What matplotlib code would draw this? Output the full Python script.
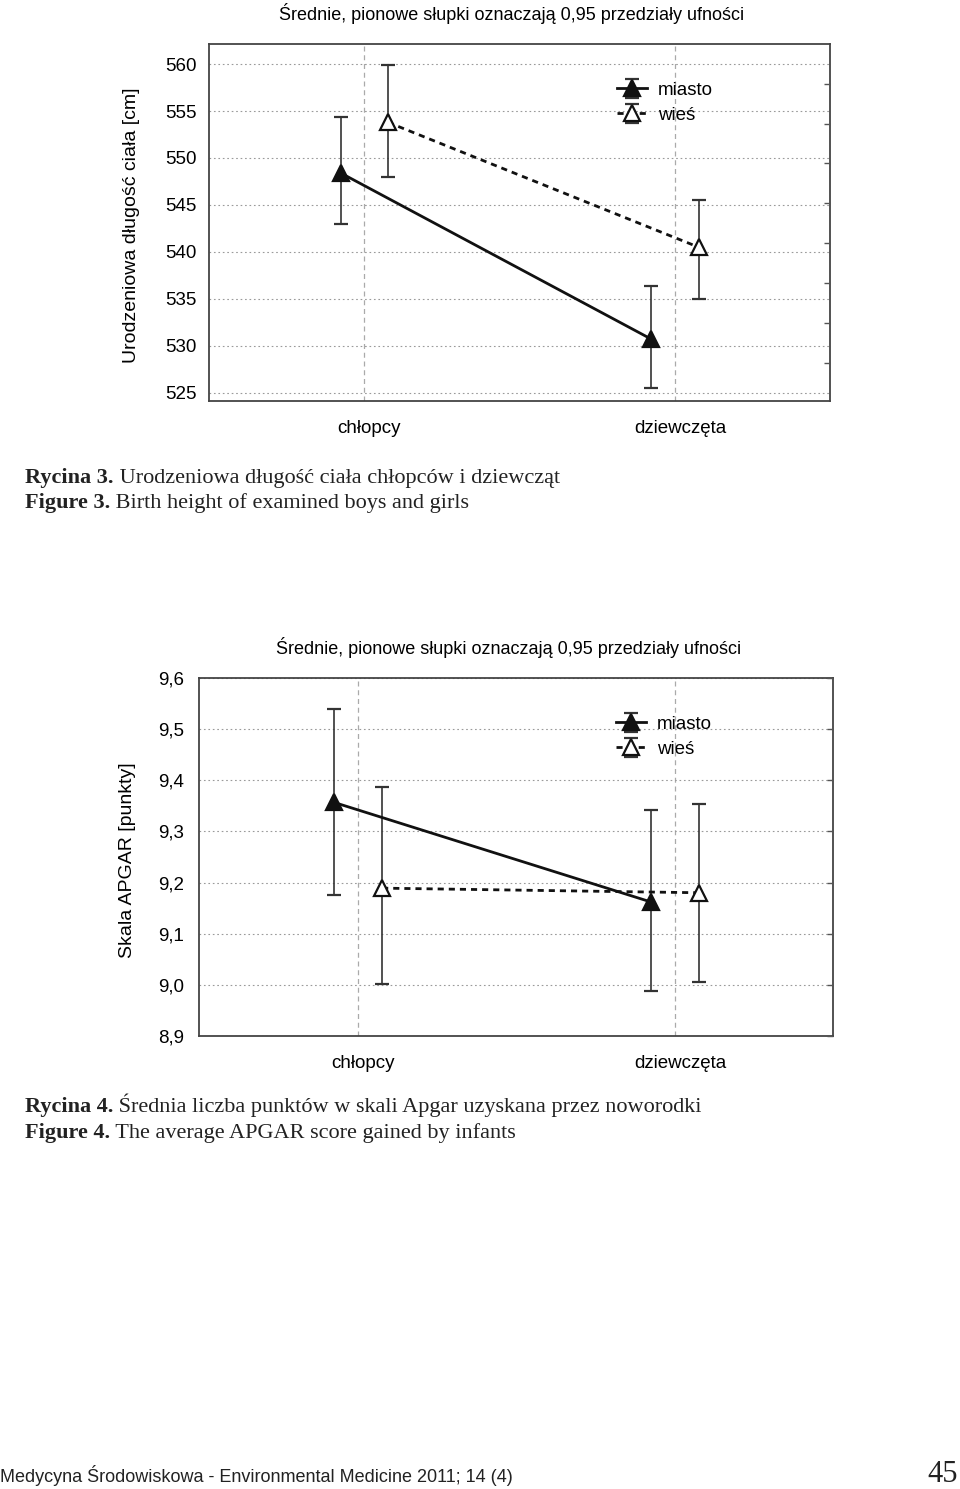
import numpy as np
import matplotlib
matplotlib.use("Agg")
import matplotlib.pyplot as plt

plt.rcParams['font.family'] = ['Liberation Sans', 'DejaVu Sans']

# --- data -------------------------------------------------------------
categories = ['chłopcy', 'dziewczęta']
series = ['miasto', 'wieś']

# Rycina 3: birth length
len_mean = {'miasto': [548.4, 530.7], 'wieś': [553.8, 540.5]}
len_low = {'miasto': [543.0, 525.5], 'wieś': [548.0, 535.0]}
len_high = {'miasto': [554.4, 536.4], 'wieś': [559.9, 545.5]}
len_ticks = [525, 530, 535, 540, 545, 550, 555, 560]

# Rycina 4: APGAR
apg_mean = {'miasto': [9.357, 9.162], 'wieś': [9.189, 9.180]}
apg_low = {'miasto': [9.176, 8.988], 'wieś': [9.002, 9.006]}
apg_high = {'miasto': [9.540, 9.342], 'wieś': [9.388, 9.354]}
apg_ticks = [8.9, 9.0, 9.1, 9.2, 9.3, 9.4, 9.5, 9.6]

title = 'Średnie, pionowe słupki oznaczają 0,95 przedziały ufności'

W, H = 960, 1489
fig = plt.figure(figsize=(W / 100, H / 100), dpi=100)

offsets = {'miasto': -0.075, 'wieś': 0.077}
styles = {
    'miasto': dict(linestyle='-', markerfacecolor='#111111'),
    'wieś': dict(linestyle=(0, (2.2, 1.8)), markerfacecolor='white'),
}


def draw_chart(rect, mean, low, high, ticks, ylim, ylabel, ylab_xy, fmt,
               pad_y, right_ticks, title_y):
    ax = fig.add_axes(rect)
    x = np.arange(len(categories))
    for s in series:
        m = np.array(mean[s])
        err = [m - np.array(low[s]), np.array(high[s]) - m]
        ax.errorbar(x + offsets[s], m, yerr=err, color='#111111',
                    ecolor='#333333', elinewidth=1.2, capsize=5, capthick=1.2,
                    lw=2.0, marker='^', markersize=11, markeredgewidth=1.6,
                    markeredgecolor='#111111', label=s, zorder=3, **styles[s])
    ax.set_xlim(-0.5, 1.5)
    ax.set_ylim(*ylim)
    # major ticks carry the grid, labels sit a few pixels to the right
    ax.set_xticks(x)
    ax.set_xticklabels([])
    ax.set_xticks(x + 0.017, minor=True)
    ax.set_xticklabels(categories, minor=True, fontsize=13.5)
    ax.set_yticks(ticks)
    ax.set_yticklabels([fmt(t) for t in ticks], fontsize=13.5)
    ax.tick_params(axis='y', length=0, pad=pad_y)
    ax.tick_params(axis='x', which='both', length=0, pad=14)
    ax.grid(axis='y', color='#9a9a9a', lw=0.8, linestyle=(0, (1.5, 2.5)))
    ax.grid(axis='x', which='major', color='#aaaaaa', lw=0.9,
            linestyle=(0, (4, 3)))
    ax.set_axisbelow(True)
    for sp in ax.spines.values():
        sp.set_color('#444444')
        sp.set_linewidth(1.3)

    ax2 = ax.twinx()
    ax2.set_ylim(*ylim)
    ax2.set_yticks(right_ticks)
    ax2.set_yticklabels([])
    ax2.tick_params(axis='y', direction='in', length=4, width=1.0,
                    color='#555555')
    ax2.spines[:].set_visible(False)

    ax.legend(loc='center left', bbox_to_anchor=(0.657, 0.836),
              frameon=False, fontsize=13.5, handlelength=1.6,
              handletextpad=0.6, labelspacing=0.42, borderpad=0,
              borderaxespad=0)
    fig.text(ylab_xy[0], ylab_xy[1], ylabel, rotation=90, ha='center',
             va='center', fontsize=14)
    fig.text(rect[0] + rect[2] / 2 - 0.008, title_y, title, ha='center',
             va='center', fontsize=13)
    return ax


draw_chart([0.2174, 0.7309, 0.6472, 0.2393], len_mean, len_low, len_high,
           len_ticks, (524.15, 562.1), 'Urodzeniowa długość ciała [cm]',
           (0.1365, 0.8489), lambda t: '%d' % t, 9,
           np.linspace(557.9, 528.2, 8), 1 - 13 / H)

draw_chart([0.2076, 0.30443, 0.6601, 0.24003], apg_mean, apg_low, apg_high,
           apg_ticks, (8.9, 9.6), 'Skala APGAR [punkty]',
           (0.1333, 0.4224), lambda t: ('%.1f' % t).replace('.', ','), 11,
           apg_ticks, 1 - 647 / H)

# --- captions ---------------------------------------------------------
renderer = fig.canvas.get_renderer()
serif = ['Liberation Serif', 'DejaVu Serif']


def caption(y_px, bold, rest):
    yb = 1 - (y_px + 5) / H
    t = fig.text(25 / W, yb, bold, fontsize=16, fontweight='bold',
                 family=serif, va='baseline', color='#222222')
    bb = t.get_window_extent(renderer)
    fig.text(bb.x1 / W, yb, ' ' + rest, fontsize=16, family=serif,
             va='baseline', color='#222222')


caption(478, 'Rycina 3.', 'Urodzeniowa długość ciała chłopców i dziewcząt')
caption(503, 'Figure 3.', 'Birth height of examined boys and girls')
caption(1107, 'Rycina 4.', 'Średnia liczba punktów w skali Apgar uzyskana przez noworodki')
caption(1133, 'Figure 4.', 'The average APGAR score gained by infants')

fig.text(0.0, 1 - 1476 / H, 'Medycyna Środowiskowa - Environmental Medicine 2011; 14 (4)',
         fontsize=13, va='center', ha='left', color='#222222')
fig.text(958 / W, 1 - 1474 / H, '45', fontsize=22, va='center', ha='right',
         family=serif, color='#222222')

fig.savefig('out.png', dpi=100)
